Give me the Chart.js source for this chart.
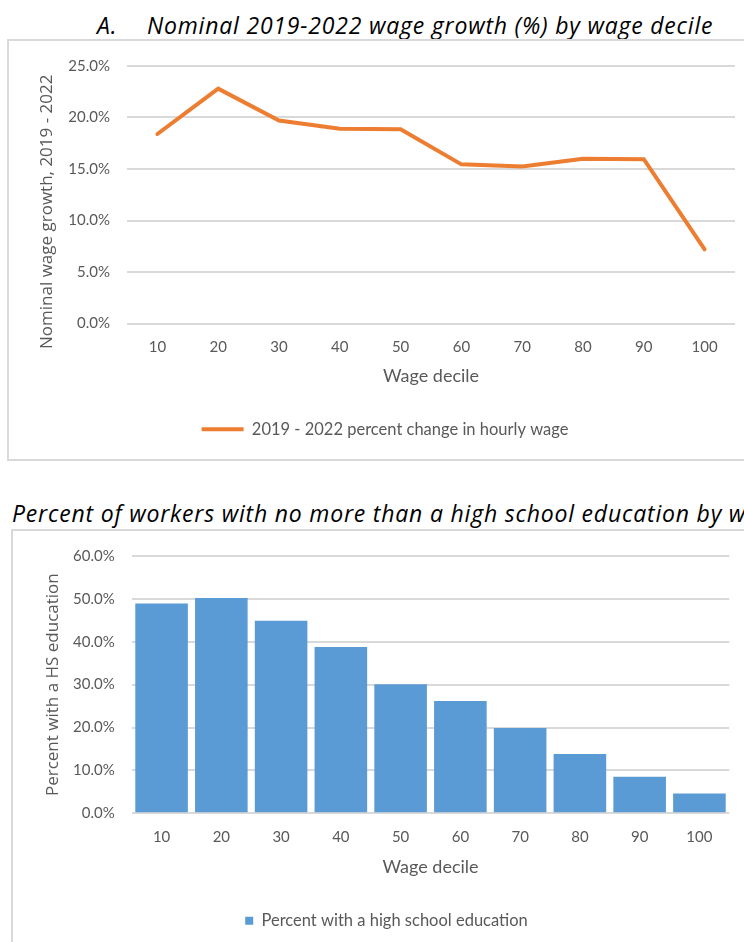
<!DOCTYPE html>
<html>
<head>
<meta charset="utf-8">
<script src="https://cdn.jsdelivr.net/npm/chart.js@4.4.0/dist/chart.umd.min.js"></script>
<style>
  html, body { margin: 0; padding: 0; background: #fff; overflow: hidden; }
  body { width: 744px; height: 942px; position: relative; font-family: Lato, sans-serif; }
  .title { position: absolute; font-family: "Open Sans", sans-serif; font-style: italic; font-size: 23px; letter-spacing: 0.8px; line-height: 26px; color: #000; white-space: nowrap; }
  .box { position: absolute; border: 2px solid #d9d9d9; }
  canvas { position: absolute; left: 0; }
</style>
</head>
<body>
<div class="title" style="left:97px; top:12px;">A.</div>
<div class="title" style="left:147px; top:12px;">Nominal 2019-2022 wage growth (%) by wage decile</div>
<div class="box" style="left:7px; top:39px; width:800px; height:418px;"></div>
<canvas id="wageChart" width="744" height="420" style="top:40px; width:744px; height:420px;"></canvas>

<div class="title" style="left:12px; top:500px;">Percent of workers with no more than a high school education by wage decile</div>
<div class="box" style="left:11px; top:529px; width:800px; height:500px;"></div>
<canvas id="hsChart" width="744" height="412" style="top:530px; width:744px; height:412px;"></canvas>

<script>
// wage deciles (x axis)
const deciles = ["10", "20", "30", "40", "50", "60", "70", "80", "90", "100"];

// A. nominal wage growth 2019-2022, percent
const wageGrowth = [18.4, 22.8, 19.7, 18.9, 18.85, 15.45, 15.25, 16.0, 15.95, 7.2];

// share of workers with no more than a high school education, percent
const hsShare = [48.9, 50.2, 44.9, 38.8, 30.1, 26.2, 19.9, 13.8, 8.55, 4.6];

const grey = "#595959";
const gridGrey = "#d9d9d9";

Chart.defaults.font.family = "Lato";
Chart.defaults.animation = false;

function pct(v) { return v.toFixed(1) + "%"; }

// shared axis setup, both panels look the same apart from sizes
function axes(yMax, yStep, yTitle, yWidth, yTitlePad, xHeight, xTitlePad) {
  return {
    x: {
      offset: true,
      grid: { display: false, drawTicks: false },
      border: { display: false },
      ticks: { padding: 15, color: grey, font: { size: 15 } },
      title: { display: true, text: "Wage decile", color: grey, font: { size: 18 }, padding: { top: 0, bottom: xTitlePad } },
      afterFit: function(s) { s.height = xHeight; }
    },
    y: {
      min: 0, max: yMax,
      grid: { color: gridGrey, lineWidth: 2, drawTicks: false },
      border: { display: false },
      ticks: { stepSize: yStep, padding: 17, color: grey, font: { size: 15 }, callback: pct },
      title: { display: true, text: yTitle, color: grey, font: { family: "Open Sans", size: 17, lineHeight: 1 }, padding: { top: yTitlePad, bottom: 0 } },
      afterFit: function(s) { s.width = yWidth; }
    }
  };
}

new Chart(document.getElementById("wageChart"), {
  type: "line",
  data: {
    labels: deciles,
    datasets: [{
      label: "2019 - 2022 percent change in hourly wage",
      data: wageGrowth,
      borderColor: "#ed7d31",
      backgroundColor: "#ed7d31",
      borderWidth: 4,
      borderCapStyle: "round",
      pointRadius: 0,
      tension: 0
    }]
  },
  options: {
    responsive: false,
    layout: { padding: { left: 35, right: 9, top: 23, bottom: 12.5 } },
    // trailing en spaces push the long title down a little, like the original
    scales: axes(25, 5, "Nominal wage growth, 2019 - 2022\u2002\u2002\u2002\u2002", 92, 4, 87.5, 23.7),
    plugins: {
      tooltip: { enabled: false },
      legend: {
        position: "bottom",
        labels: { color: grey, font: { size: 16.5 }, usePointStyle: true, pointStyle: "line", pointStyleWidth: 42, padding: 10 }
      }
    }
  }
});

new Chart(document.getElementById("hsChart"), {
  type: "bar",
  data: {
    labels: deciles,
    datasets: [{
      label: "Percent with a high school education",
      data: hsShare,
      backgroundColor: "#5b9bd5",
      borderWidth: 0,
      categoryPercentage: 1,
      barPercentage: 0.88
    }]
  },
  options: {
    responsive: false,
    layout: { padding: { left: 43.7, right: 14.7, top: 21.7, bottom: 3 } },
    scales: axes(60, 10, "Percent with a HS education", 88, 0.5, 89.2, 24.7),
    plugins: {
      tooltip: { enabled: false },
      legend: {
        position: "bottom",
        labels: { color: grey, font: { size: 16.5 }, boxWidth: 8, boxHeight: 8, padding: 10 }
      }
    }
  }
});
</script>
</body>
</html>
